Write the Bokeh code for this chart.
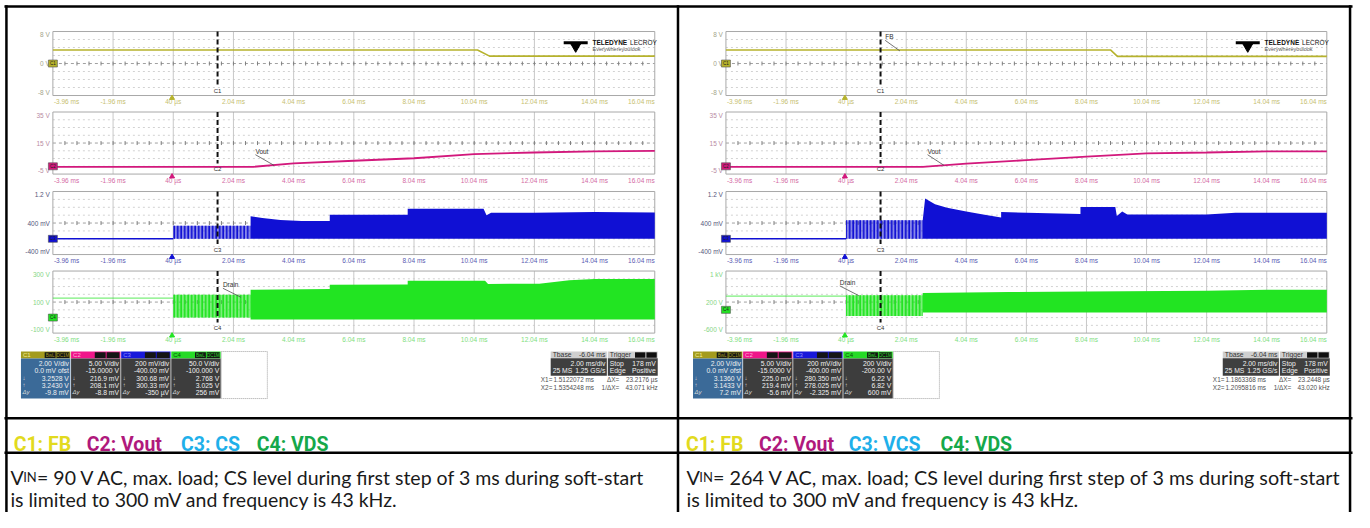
import math
from bokeh.plotting import figure
from bokeh.models import Range1d
from bokeh.embed import file_html
from bokeh.resources import INLINE
from bokeh.core.properties import value

# ======================= data =======================
T_TICKS = [-3.96, -1.96, 0.04, 2.04, 4.04, 6.04, 8.04, 10.04, 12.04, 14.04, 16.04]
T_LABELS = ["-3.96 ms", "-1.96 ms", "40 µs", "2.04 ms", "4.04 ms", "6.04 ms",
            "8.04 ms", "10.04 ms", "12.04 ms", "14.04 ms", "16.04 ms"]

C1_RANGE = [-8, 8]
C1_YLAB = ["-8 V", "0 V", "8 V"]
C2_RANGE = [-5, 35]
C2_YLAB = ["-5 V", "15 V", "35 V"]
C3_RANGE = [-0.4, 1.2]
C3_YLAB = ["-400 mV", "400 mV", "1.2 V"]
C4_RANGE_L = [-100, 300]
C4_YLAB_L = ["-100 V", "100 V", "300 V"]
C4_RANGE_R = [-600, 1000]
C4_YLAB_R = ["-600 V", "200 V", "1 kV"]

# cursor (trigger) times, ms
TRIG_L = 1.5122072
TRIG_R = 1.1863368

# ---- left scope: VIN = 90 V AC ----
L_C1_T = [-3.96, 10.15, 10.55, 16.04]
L_C1_V = [3.4, 3.4, 1.85, 1.85]
L_C2_T = [-3.96, 2.7, 4.04, 6.04, 8.04, 10.04, 12.04, 14.04, 16.04]
L_C2_V = [-0.3, -0.3, 1.9, 3.6, 5.2, 7.9, 8.9, 9.6, 10.0]
L_C3_BURST_T = [0.04, 2.61]
L_C3_BURST_TOP = 0.33
L_C3_T = [2.61, 3.0, 3.6, 4.3, 5.24, 5.24, 7.83, 7.83, 10.35, 10.45, 10.6, 12.04, 14.04, 16.04]
L_C3_TOP = [0.57, 0.53, 0.48, 0.45, 0.45, 0.61, 0.61, 0.76, 0.76, 0.60, 0.66, 0.66, 0.68, 0.67]
L_C3_BOTTOM = 0.0
L_C4_PRE = 125
L_C4_BURST_T = [0.04, 2.61]
L_C4_BURST_TOP = 148
L_C4_BURST_BOTTOM = 0
L_C4_T = [2.61, 5.24, 5.24, 7.83, 7.83, 10.4, 10.5, 12.2, 13.2, 14.04, 16.04]
L_C4_TOP = [179, 185, 211, 214, 237, 237, 217, 218, 240, 248, 248]
L_C4_BOTTOM = -12

# ---- right scope: VIN = 264 V AC ----
R_C1_T = [-3.96, 8.84, 9.07, 16.04]
R_C1_V = [3.4, 3.4, 1.8, 1.8]
R_C2_T = [-3.96, 2.59, 4.04, 6.04, 8.04, 10.04, 12.04, 14.04, 16.04]
R_C2_V = [-0.3, -0.3, 1.7, 4.0, 6.2, 8.3, 8.9, 9.6, 9.6]
R_C3_BURST_T = [0.04, 2.59]
R_C3_BURST_TOP = 0.47
R_C3_T = [2.59, 2.67, 3.0, 3.4, 4.04, 4.6, 5.2, 5.2, 7.84, 7.84, 9.0, 9.05, 9.23, 9.4, 12.04, 13.0, 16.04]
R_C3_TOP = [0.47, 1.02, 0.88, 0.79, 0.69, 0.62, 0.54, 0.68, 0.63, 0.81, 0.81, 0.58, 0.69, 0.62, 0.62, 0.66, 0.66]
R_C3_BOTTOM = 0.0
R_C4_PRE = 355
R_C4_BURST_T = [0.04, 2.59]
R_C4_BURST_TOP = 375
R_C4_BURST_BOTTOM = -160
R_C4_T = [2.59, 5.45, 8.04, 12.04, 14.04, 16.04]
R_C4_TOP = [433, 458, 475, 492, 517, 517]
R_C4_BOTTOM = -67

# ---- readout boxes ----
BOX_HEAD = ["C1", "C2", "C3", "C4"]
L_BOX = [["2.00 V/div", "0.0 mV ofst", "3.2528 V", "3.2430 V", "-9.8 mV"],
         ["5.00 V/div", "-15.0000 V", "216.9 mV", "208.1 mV", "-8.8 mV"],
         ["200 mV/div", "-400.00 mV", "300.68 mV", "300.33 mV", "-350 µV"],
         ["50.0 V/div", "-100.000 V", "2.768 V", "3.025 V", "256 mV"]]
R_BOX = [["2.00 V/div", "0.0 mV ofst", "3.1360 V", "3.1433 V", "7.2 mV"],
         ["5.00 V/div", "-15.0000 V", "225.0 mV", "219.4 mV", "-5.6 mV"],
         ["200 mV/div", "-400.00 mV", "280.350 mV", "278.025 mV", "-2.325 mV"],
         ["200 V/div", "-200.00 V", "6.22 V", "6.82 V", "600 mV"]]
TBASE = ["Tbase", "-6.04 ms", "2.00 ms/div", "25 MS", "1.25 GS/s"]
TRIG_BOX = ["Trigger", "Stop", "178 mV", "Edge", "Positive"]
L_CURSOR = [["X1=", "1.5122072 ms", "ΔX=", "23.2176 µs"],
            ["X2=", "1.5354248 ms", "1/ΔX=", "43.071 kHz"]]
R_CURSOR = [["X1=", "1.1863368 ms", "ΔX=", "23.2448 µs"],
            ["X2=", "1.2095816 ms", "1/ΔX=", "43.020 kHz"]]

# ---- table text ----
CH_NAMES_L = ["C1: FB", "C2: Vout", "C3: CS", "C4: VDS"]
CH_NAMES_R = ["C1: FB", "C2: Vout", "C3: VCS", "C4: VDS"]
CAP_L1 = "= 90 V AC, max. load; CS level during first step of 3 ms during soft-start"
CAP_R1 = "= 264 V AC, max. load; CS level during first step of 3 ms during soft-start"
CAP_2 = "is limited to 300 mV and frequency is 43 kHz."

# ======================= styles / layout =======================
TRACE = ["#b6b22c", "#d2187c", "#1010d4", "#22e422"]
XLAB = ["#c6c070", "#d36aa4", "#5a5ab2", "#7ede7e"]
YLAB = ["#a4a48a", "#b88aa2", "#55557a", "#86d686"]
HEAD_BG = ["#a39b1d", "#f0168a", "#1818da", "#26da26"]
HEAD_FG = ["#f4ee96", "#ffb0d6", "#8c8cff", "#0b4f0b"]
BODY_BG = ["#3b6a98", "#3d3d3d", "#3d3d3d", "#3d3d3d"]
CH_TEXT = ["#e2da1e", "#b0197c", "#1fb0ea", "#16a84a"]

SF = value("Liberation Sans")
TF = value("Lato")

RX0, RX1 = 0, 1370
RYB, RYT = 528, 0
p = figure(width=1354, height=512, x_range=Range1d(RX0, RX1), y_range=Range1d(RYB, RYT),
           output_backend="svg", toolbar_location=None, min_border=0,
           x_axis_location=None, y_axis_location=None)
p.xgrid.visible = False
p.ygrid.visible = False
p.outline_line_color = None
p.background_fill_color = "white"
p.border_fill_color = "white"

SCOPE_X = {"L": (53, 662), "R": (734, 1342)}
ROW_Y = [(32, 98), (115, 179), (197, 262), (279, 343)]
T0, T1 = T_TICKS[0], T_TICKS[-1]


def panel(side, row, vr):
    px0, px1 = SCOPE_X[side]
    py0, py1 = ROW_Y[row]
    v0, v1 = vr
    sx = (T1 - T0) / (px1 - px0)
    sy = (v1 - v0) / (py1 - py0)
    name = f"{side}{row}"
    p.extra_x_ranges[name] = Range1d(T0 + (RX0 - px0) * sx, T0 + (RX1 - px0) * sx)
    p.extra_y_ranges[name] = Range1d(v0 + (py1 - RYB) * sy, v0 + (py1 - RYT) * sy)
    return dict(x_range_name=name, y_range_name=name), sx, sy


def draw_grid(kw, vr, sy, row, ylabels):
    v0, v1 = vr
    vc = (v0 + v1) / 2
    hv = [v0 + k * (v1 - v0) / 8 for k in (1, 2, 3, 5, 6, 7)]
    p.segment(x0=[T0] * 6, x1=[T1] * 6, y0=hv, y1=hv, line_color="#d2d2d2",
              line_dash="2 3", line_width=1, **kw)
    mid = T_TICKS[1:-1]
    p.segment(x0=mid, x1=mid, y0=[v0] * len(mid), y1=[v1] * len(mid),
              line_color="#c8c8c8", line_width=1, **kw)
    p.segment(x0=[T0], x1=[T1], y0=[vc], y1=[vc], line_color="#a0a0a0",
              line_dash="3 3", line_width=1, **kw)
    minor = [T0 + 0.4 * k for k in range(1, 50)]
    p.scatter(minor, [vc] * len(minor), marker="dash", angle=math.pi / 2, size=4,
              line_color="#808080", line_width=1, **kw)
    p.quad(left=[T0], right=[T1], bottom=[v0], top=[v1], fill_color=None,
           line_color="#a8a8a8", line_width=1, **kw)
    # time labels
    common = dict(text_font=SF, text_font_size="6.5px", text_color=XLAB[row],
                  text_baseline="middle", y_offset=6)
    p.text(x=[T0], y=[v0], text=[T_LABELS[0]], text_align="left", x_offset=1, **common, **kw)
    p.text(x=mid, y=[v0] * len(mid), text=T_LABELS[1:-1], text_align="center", **common, **kw)
    p.text(x=[T1], y=[v0], text=[T_LABELS[-1]], text_align="right", **common, **kw)
    p.scatter([0.0], [v0 - 2.5 * sy], marker="triangle", size=5, fill_color=TRACE[row],
              line_color=TRACE[row], **kw)
    # level labels
    p.text(x=[T0] * 3, y=[v0 + 3.5 * sy, vc, v1 - 3.5 * sy], text=ylabels,
           text_font=SF, text_font_size="6.5px", text_color=YLAB[row],
           text_align="right", text_baseline="middle", x_offset=-3, **kw)


def channel_tag(kw, row, zero):
    p.rect(x=[T0], y=[zero], width=9, height=7, width_units="screen", height_units="screen",
           fill_color=TRACE[row], line_color="#505050", line_width=0.6, **kw)
    p.text(x=[T0], y=[zero], text=[BOX_HEAD[row]], text_font=SF, text_font_size="4.5px",
           text_color="#202020", text_align="center", text_baseline="middle", **kw)


def trig_line(kw, vr, sy, t, row):
    v0, v1 = vr
    p.segment(x0=[t], x1=[t], y0=[v1], y1=[v0 + 11 * sy], line_color="#101010",
              line_width=2, line_dash="5 3", **kw)
    p.text(x=[t], y=[v0 + 5 * sy], text=[BOX_HEAD[row]], text_font=SF, text_font_size="6px",
           text_color="#303030", text_align="center", text_baseline="middle", **kw)


def label_ptr(kw, t, v, t2, v2, txt):
    p.text(x=[t], y=[v], text=[txt], text_font=SF, text_font_size="6.5px",
           text_color="#303030", text_align="left", text_baseline="bottom", **kw)
    p.segment(x0=[t], x1=[t2], y0=[v], y1=[v2], line_color="#505050", line_width=0.8, **kw)


def scope(side, trig, c1, c2, c3, c4, c4range, c4ylab, ann):
    ranges = [C1_RANGE, C2_RANGE, C3_RANGE, c4range]
    ylabs = [C1_YLAB, C2_YLAB, C3_YLAB, c4ylab]
    kws = []
    for row in range(4):
        kw, sx, sy = panel(side, row, ranges[row])
        kws.append((kw, sy))
        draw_grid(kw, ranges[row], sy, row, ylabs[row])
    kw, sy = kws[0]
    p.line(c1[0], c1[1], line_color=TRACE[0], line_width=1.6, **kw)
    kw, sy = kws[1]
    p.line(c2[0], c2[1], line_color=TRACE[1], line_width=1.8, **kw)
    # C3
    kw, sy = kws[2]
    bt, btop, et, etop, bot = c3
    p.line([T0, bt[0]], [bot, bot], line_color=TRACE[2], line_width=1.5, **kw)
    p.varea(x=bt, y1=[bot, bot], y2=[btop, btop], fill_color=TRACE[2], fill_alpha=0.5,
            hatch_pattern="vertical_line", hatch_color=TRACE[2], hatch_scale=3.5,
            hatch_weight=1.7, **kw)
    p.varea(x=et, y1=[bot] * len(et), y2=etop, fill_color=TRACE[2], **kw)
    # C4
    kw, sy = kws[3]
    pre, bt, btop, bbot, et, etop, bot = c4
    p.line([T0, bt[0]], [pre, pre], line_color=TRACE[3], line_alpha=0.6, line_width=1.2, **kw)
    p.varea(x=bt, y1=[bbot, bbot], y2=[btop, btop], fill_color=TRACE[3], fill_alpha=0.6,
            hatch_pattern="vertical_line", hatch_color=TRACE[3], hatch_scale=3.5,
            hatch_weight=1.8, **kw)
    p.varea(x=et, y1=[bot] * len(et), y2=etop, fill_color=TRACE[3], **kw)
    for row in range(4):
        kw, sy = kws[row]
        channel_tag(kw, row, 0.0)
        trig_line(kw, ranges[row], sy, trig, row)
    for row, t, v, t2, v2, txt in ann:
        label_ptr(kws[row][0], t, v, t2, v2, txt)
    # logo in top panel
    px0, px1 = SCOPE_X[side]
    lx = px1 - 63
    p.scatter([lx - 17], [47.5], marker="inverted_triangle", size=10, fill_color="black",
              line_color="black")
    p.scatter([lx - 17], [43.5], marker="dash", size=24, line_color="black", line_width=3)
    p.text(x=[lx], y=[43.5], text=["TELEDYNE"], text_font=SF, text_font_style="bold",
           text_font_size="6.5px", text_color="#111111", text_baseline="middle")
    p.text(x=[lx + 38], y=[43.5], text=["LECROY"], text_font=SF, text_font_size="6.5px",
           text_color="#111111", text_baseline="middle")
    p.text(x=[lx], y=[50.5], text=["Everywhereyoulook"], text_font=SF, text_font_size="5.5px",
           text_color="#555555", text_baseline="middle")


scope("L", TRIG_L, (L_C1_T, L_C1_V), (L_C2_T, L_C2_V),
      (L_C3_BURST_T, L_C3_BURST_TOP, L_C3_T, L_C3_TOP, L_C3_BOTTOM),
      (L_C4_PRE, L_C4_BURST_T, L_C4_BURST_TOP, L_C4_BURST_BOTTOM, L_C4_T, L_C4_TOP, L_C4_BOTTOM),
      C4_RANGE_L, C4_YLAB_L,
      [(1, 2.77, 7.5, 3.39, 0.6, "Vout"), (3, 1.69, 189, 2.29, 131, "Drain")])
scope("R", TRIG_R, (R_C1_T, R_C1_V), (R_C2_T, R_C2_V),
      (R_C3_BURST_T, R_C3_BURST_TOP, R_C3_T, R_C3_TOP, R_C3_BOTTOM),
      (R_C4_PRE, R_C4_BURST_T, R_C4_BURST_TOP, R_C4_BURST_BOTTOM, R_C4_T, R_C4_TOP, R_C4_BOTTOM),
      C4_RANGE_R, C4_YLAB_R,
      [(0, 1.34, 5.8, 1.83, 3.15, "FB"), (1, 2.75, 7.5, 3.3, 0.6, "Vout"),
       (3, -0.17, 617, 0.46, 367, "Drain")])

# ---------------- readout boxes ----------------
ROWS_Y = [374.7, 382.0, 389.4, 396.8, 404.2]


def readouts(ox, boxes, cursor):
    for i in range(4):
        x0 = 20.7 + ox + 50.7 * i
        x1 = x0 + 50
        p.quad(left=[x0], right=[x1], top=[362], bottom=[369.3], fill_color=HEAD_BG[i],
               line_color=None)
        p.quad(left=[x0], right=[x1], top=[369.3], bottom=[410.5], fill_color=BODY_BG[i],
               line_color=None)
        p.text(x=[x0 + 2], y=[365.8], text=[BOX_HEAD[i]], text_font=SF, text_font_size="6px",
               text_color=HEAD_FG[i], text_baseline="middle")
        p.quad(left=[x0 + 24, x0 + 36], right=[x0 + 35, x1 - 1], top=[362.8, 362.8],
               bottom=[368.6, 368.6], fill_color="#151515", line_color=None)
        p.text(x=[x0 + 29.5, x0 + 42.5], y=[365.8, 365.8],
               text=["BwL", "DC1M"] if i in (0, 3) else ["", ""],
               text_font=SF, text_font_size="4.5px", text_color=HEAD_BG[i],
               text_align="center", text_baseline="middle")
        p.text(x=[x1 - 1.5] * 5, y=ROWS_Y, text=boxes[i], text_font=SF, text_font_size="6.8px",
               text_color="#f0f0f0", text_align="right", text_baseline="middle")
        p.text(x=[x0 + 1.5] * 3, y=ROWS_Y[2:], text=["↓", "↑", "Δy"], text_font=SF,
               text_font_size="6px", text_font_style="italic", text_color="#d8d8d8",
               text_baseline="middle")
    p.quad(left=[20.7 + ox + 50.7 * 4], right=[270 + ox], top=[362], bottom=[410.5],
           fill_color="white", line_color="#a0a0a0", line_dash="1 1", line_width=1)
    # timebase / trigger
    a, b, c = 556.7 + ox, 614 + ox, 665 + ox
    p.quad(left=[a, b + 0.5], right=[b - 0.5, c], top=[362, 362], bottom=[369, 369],
           fill_color="#cfcfcf", line_color=None)
    p.quad(left=[a, b + 0.5], right=[b - 0.5, c], top=[369, 369], bottom=[387, 387],
           fill_color="#3f3f3f", line_color=None)
    st = dict(text_font=SF, text_font_size="6.8px", text_baseline="middle")
    p.text(x=[a + 2], y=[365.5], text=[TBASE[0]], text_color="#333333", **st)
    p.text(x=[b - 2], y=[365.5], text=[TBASE[1]], text_color="#333333", text_align="right", **st)
    p.text(x=[b - 2], y=[374.3], text=[TBASE[2]], text_color="#f0f0f0", text_align="right", **st)
    p.text(x=[a + 2], y=[381.7], text=[TBASE[3]], text_color="#f0f0f0", **st)
    p.text(x=[b - 2], y=[381.7], text=[TBASE[4]], text_color="#f0f0f0", text_align="right", **st)
    p.text(x=[b + 2.5], y=[365.5], text=[TRIG_BOX[0]], text_color="#333333", **st)
    p.quad(left=[c - 23, c - 11.5], right=[c - 12.5, c - 1], top=[362.8, 362.8],
           bottom=[368.4, 368.4], fill_color="#101010", line_color=None)
    p.text(x=[b + 2.5, b + 2.5], y=[374.3, 381.7], text=[TRIG_BOX[1], TRIG_BOX[3]],
           text_color="#f0f0f0", **st)
    p.text(x=[c - 2, c - 2], y=[374.3, 381.7], text=[TRIG_BOX[2], TRIG_BOX[4]],
           text_color="#f0f0f0", text_align="right", **st)
    cst = dict(text_font=SF, text_font_size="6.4px", text_baseline="middle", text_color="#505050")
    for j, yy in enumerate([391.2, 399.3]):
        row = cursor[j]
        p.text(x=[546.7 + ox], y=[yy], text=[row[0]], **cst)
        p.text(x=[600.5 + ox], y=[yy], text=[row[1]], text_align="right", **cst)
        p.text(x=[626 + ox], y=[yy], text=[row[2]], text_align="right", **cst)
        p.text(x=[665 + ox], y=[yy], text=[row[3]], text_align="right", **cst)


readouts(0, L_BOX, L_CURSOR)
readouts(680, R_BOX, R_CURSOR)

# ---------------- table ----------------
p.segment(x0=[4, 4, 4], x1=[1368, 1368, 1368], y0=[6.2, 430.8, 466.5], y1=[6.2, 430.8, 466.5],
          line_color="black", line_width=2.5)
p.segment(x0=[6, 685.5, 1365.5], x1=[6, 685.5, 1365.5], y0=[5, 5, 5], y1=[528, 528, 528],
          line_color="black", line_width=2.5)

for xs, names in (([13.3, 87.3, 182.7, 259.3], CH_NAMES_L), ([693.5, 767.4, 858.3, 951], CH_NAMES_R)):
    for i in range(4):
        p.text(x=[xs[i]], y=[458.3], text=[names[i]], text_font=value("Roboto"),
               text_font_style="bold", text_font_size="19.5px", text_color=CH_TEXT[i],
               text_baseline="alphabetic")

for ox, cap, fs in ((0, CAP_L1, "19.5px"), (684, CAP_R1, "19.8px")):
    cs = dict(text_font=TF, text_color="#1a1a1a", text_baseline="alphabetic")
    p.text(x=[10 + ox], y=[491.5], text=["V"], text_font_size=fs, **cs)
    p.text(x=[23 + ox], y=[491.5], text=["IN"], text_font_size="13px", **cs)
    p.text(x=[37 + ox], y=[491.5], text=[cap], text_font_size=fs, **cs)
    p.text(x=[10 + ox], y=[514.5], text=[CAP_2], text_font_size=fs, **cs)

open("out.html", "w").write(file_html(p, INLINE))
